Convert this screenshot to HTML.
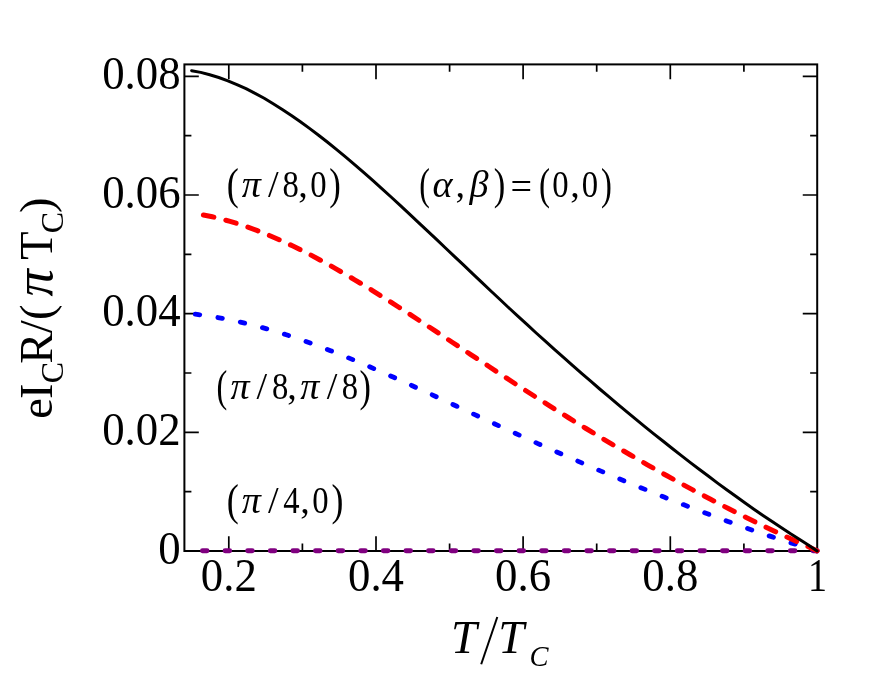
<!DOCTYPE html>
<html><head><meta charset="utf-8"><title>chart</title>
<style>html,body{margin:0;padding:0;background:#fff}svg{display:block;will-change:transform}</style></head>
<body>
<svg width="872" height="678" viewBox="0 0 872 678">
<rect x="0" y="0" width="872" height="678" fill="#fff"/>
<rect x="184.4" y="64.4" width="632.8" height="486.6" fill="none" stroke="#000" stroke-width="2"/>
<path d="M228.8,64.4v14.8M228.8,551.0v-14.8M302.4,64.4v7.4M302.4,551.0v-7.4M376.0,64.4v14.8M376.0,551.0v-14.8M449.6,64.4v7.4M449.6,551.0v-7.4M523.1,64.4v14.8M523.1,551.0v-14.8M596.7,64.4v7.4M596.7,551.0v-7.4M670.3,64.4v14.8M670.3,551.0v-14.8M743.9,64.4v7.4M743.9,551.0v-7.4M184.4,491.7h7.0M817.15,491.7h-7.0M184.4,432.3h14.4M817.15,432.3h-14.4M184.4,373.0h7.0M817.15,373.0h-7.0M184.4,313.6h14.4M817.15,313.6h-14.4M184.4,254.3h7.0M817.15,254.3h-7.0M184.4,195.0h14.4M817.15,195.0h-14.4M184.4,135.6h7.0M817.15,135.6h-7.0M184.4,76.3h14.4M817.15,76.3h-14.4" fill="none" stroke="#000" stroke-width="1.7"/>
<path d="M202.45,550.8H817.15" fill="none" stroke="#800080" stroke-width="4.9" stroke-linecap="round" stroke-dasharray="4.6 18.01"/>
<path d="M195.3,314.2L204.3,315.4L213.3,316.7L222.3,318.3L231.4,320.1L240.4,322.1L249.4,324.2L258.4,326.5L267.4,329.0L276.4,331.7L285.5,334.5L294.5,337.5L303.5,340.6L312.5,343.8L321.5,347.2L330.5,350.7L339.6,354.2L348.6,357.9L357.6,361.6L366.6,365.5L375.6,369.4L384.6,373.3L393.7,377.3L402.7,381.4L411.7,385.5L420.7,389.6L429.7,393.7L438.7,397.9L447.7,402.1L456.8,406.3L465.8,410.5L474.8,414.7L483.8,418.8L492.8,423.0L501.8,427.2L510.9,431.3L519.9,435.4L528.9,439.5L537.9,443.6L546.9,447.6L555.9,451.6L565.0,455.6L574.0,459.5L583.0,463.4L592.0,467.3L601.0,471.1L610.0,474.9L619.0,478.7L628.1,482.5L637.1,486.2L646.1,489.8L655.1,493.5L664.1,497.1L673.1,500.6L682.2,504.2L691.2,507.6L700.2,511.1L709.2,514.5L718.2,517.9L727.2,521.2L736.3,524.4L745.3,527.6L754.3,530.8L763.3,533.9L772.3,536.9L781.3,539.8L790.4,542.7L799.4,545.4L808.4,548.0L817.1,551.0" fill="none" stroke="#0000ff" stroke-width="4.8" stroke-linecap="round" stroke-dasharray="4.5 18.345"/>
<path d="M203.4,215.0L212.3,216.8L221.2,219.0L230.1,221.4L239.0,224.1L247.9,227.1L256.8,230.4L265.7,233.9L274.6,237.7L283.5,241.6L292.4,245.8L301.3,250.2L310.2,254.7L319.1,259.5L328.0,264.3L336.9,269.4L345.8,274.5L354.7,279.8L363.6,285.1L372.5,290.6L381.4,296.2L390.3,301.8L399.2,307.5L408.1,313.2L417.0,319.0L425.9,324.8L434.8,330.7L443.7,336.6L452.6,342.5L461.5,348.4L470.4,354.3L479.3,360.1L488.2,366.0L497.1,371.9L506.0,377.7L514.8,383.5L523.7,389.3L532.6,395.0L541.5,400.7L550.4,406.3L559.3,412.0L568.2,417.5L577.1,423.0L586.0,428.5L594.9,433.9L603.8,439.3L612.7,444.6L621.6,449.8L630.5,455.0L639.4,460.2L648.3,465.3L657.2,470.3L666.1,475.3L675.0,480.2L683.9,485.1L692.8,489.9L701.7,494.6L710.6,499.3L719.5,504.0L728.4,508.5L737.3,513.1L746.2,517.5L755.1,521.9L764.0,526.2L772.9,530.5L781.8,534.7L790.7,538.7L799.6,542.8L808.5,546.7L817.1,551.0" fill="none" stroke="#ff0000" stroke-width="5" stroke-linecap="round" stroke-dasharray="10.7 12.365"/>
<path d="M191.6,70.7L200.7,72.4L209.7,74.7L218.8,77.5L227.9,80.8L236.9,84.6L246.0,88.7L255.1,93.4L264.2,98.3L273.2,103.7L282.3,109.4L291.4,115.4L300.4,121.7L309.5,128.4L318.6,135.2L327.6,142.3L336.7,149.6L345.8,157.1L354.9,164.8L363.9,172.7L373.0,180.7L382.1,188.8L391.1,197.0L400.2,205.4L409.3,213.8L418.3,222.3L427.4,230.8L436.5,239.4L445.5,248.0L454.6,256.6L463.7,265.2L472.8,273.8L481.8,282.4L490.9,291.0L500.0,299.5L509.0,308.0L518.1,316.4L527.2,324.7L536.2,333.0L545.3,341.2L554.4,349.4L563.5,357.4L572.5,365.4L581.6,373.4L590.7,381.2L599.7,389.0L608.8,396.7L617.9,404.3L626.9,411.9L636.0,419.4L645.1,426.8L654.1,434.1L663.2,441.3L672.3,448.5L681.4,455.6L690.4,462.6L699.5,469.5L708.6,476.3L717.6,483.1L726.7,489.7L735.8,496.3L744.8,502.8L753.9,509.2L763.0,515.4L772.1,521.6L781.1,527.6L790.2,533.6L799.3,539.3L808.3,545.0L817.1,551.0" fill="none" stroke="#000" stroke-width="3" stroke-linecap="round" stroke-linejoin="round"/>
<g font-family="'Liberation Serif', serif" fill="#000">
<text transform="translate(180.6,563.6) scale(1,1.05)" font-size="44.8" text-anchor="end">0</text>
<text transform="translate(180.6,444.9) scale(1,1.05)" font-size="44.8" text-anchor="end">0.02</text>
<text transform="translate(180.6,326.2) scale(1,1.05)" font-size="44.8" text-anchor="end">0.04</text>
<text transform="translate(180.6,207.6) scale(1,1.05)" font-size="44.8" text-anchor="end">0.06</text>
<text transform="translate(180.6,88.9) scale(1,1.05)" font-size="44.8" text-anchor="end">0.08</text>
<text transform="translate(228.8,590.7) scale(1,1.05)" font-size="44.8" text-anchor="middle">0.2</text>
<text transform="translate(376.0,590.7) scale(1,1.05)" font-size="44.8" text-anchor="middle">0.4</text>
<text transform="translate(523.1,590.7) scale(1,1.05)" font-size="44.8" text-anchor="middle">0.6</text>
<text transform="translate(670.3,590.7) scale(1,1.05)" font-size="44.8" text-anchor="middle">0.8</text>
<text transform="translate(817.5,590.7) scale(0.85,1.05)" font-size="44.8" text-anchor="middle">1</text>
<text transform="translate(226.71,199.26) scale(0.9052471482889735,1.1083683360258487)" font-size="40.0">(</text>
<text x="241.79" y="197.20" font-size="38.2" font-style="italic">π</text>
<text x="268.00" y="197.20" font-size="38.2">/</text>
<text transform="translate(282.56,197.20) scale(0.875,1.0)" font-size="37.3">8</text>
<text x="298.35" y="197.20" font-size="38.2">,</text>
<text transform="translate(310.36,197.20) scale(0.875,1.0)" font-size="37.3">0</text>
<text transform="translate(329.18,199.26) scale(0.8663117870722401,1.1083683360258487)" font-size="40.0">)</text>
<text transform="translate(419.20,199.26) scale(0.7981749049429636,1.1083683360258487)" font-size="40.0">(</text>
<text x="432.46" y="197.20" font-size="38.2" font-style="italic">α</text>
<text x="455.55" y="197.20" font-size="38.2">,</text>
<text x="469.62" y="197.20" font-size="38.2" font-style="italic">β</text>
<text transform="translate(493.68,199.26) scale(0.8663117870722401,1.1083683360258487)" font-size="40.0">)</text>
<text x="510.50" y="199.30" font-size="38.2">=</text>
<text transform="translate(539.05,199.26) scale(0.8273764258555178,1.1083683360258487)" font-size="40.0">(</text>
<text transform="translate(552.16,197.20) scale(0.875,1.0)" font-size="37.3">0</text>
<text x="570.35" y="197.20" font-size="38.2">,</text>
<text transform="translate(581.76,197.20) scale(0.875,1.0)" font-size="37.3">0</text>
<text transform="translate(600.95,199.26) scale(0.8176425855513331,1.1083683360258487)" font-size="40.0">)</text>
<text transform="translate(216.48,401.36) scale(0.8079087452471484,1.1083683360258478)" font-size="40.0">(</text>
<text x="230.59" y="399.30" font-size="38.2" font-style="italic">π</text>
<text x="256.60" y="399.30" font-size="38.2">/</text>
<text transform="translate(271.96,399.30) scale(0.875,1.0)" font-size="37.3">8</text>
<text x="287.15" y="399.30" font-size="38.2">,</text>
<text x="300.19" y="399.30" font-size="38.2" font-style="italic">π</text>
<text x="326.80" y="399.30" font-size="38.2">/</text>
<text transform="translate(341.76,399.30) scale(0.875,1.0)" font-size="37.3">8</text>
<text transform="translate(359.60,401.36) scale(0.8565779467680609,1.1083683360258478)" font-size="40.0">)</text>
<text transform="translate(226.71,514.86) scale(0.9052471482889735,1.1083683360258478)" font-size="40.0">(</text>
<text x="241.79" y="512.80" font-size="38.2" font-style="italic">π</text>
<text x="268.00" y="512.80" font-size="38.2">/</text>
<text transform="translate(283.16,512.80) scale(0.875,1.0)" font-size="37.3">4</text>
<text x="300.25" y="512.80" font-size="38.2">,</text>
<text transform="translate(312.26,512.80) scale(0.875,1.0)" font-size="37.3">0</text>
<text transform="translate(331.55,514.86) scale(0.8955133079847942,1.1083683360258478)" font-size="40.0">)</text>
<text x="451.06" y="652.90" font-size="46.5" font-style="italic">T</text>
<text x="498.36" y="652.90" font-size="46.5" font-style="italic">T</text>
<text x="529.51" y="666.00" font-size="28.5" font-style="italic">C</text>
</g>
<path d="M481.2,664.3L497.3,617.0" stroke="#000" stroke-width="2" fill="none"/>
<g font-family="'Liberation Serif', serif" fill="#000" transform="translate(52.2,420) rotate(-90)">
<text x="1.18" y="0.00" font-size="46.5">e</text>
<text x="21.02" y="0.00" font-size="46.5">I</text>
<text x="36.89" y="11.00" font-size="32">C</text>
<text x="56.16" y="0.00" font-size="46.5">R</text>
<text x="86.70" y="0.00" font-size="46.5">/</text>
<text x="99.96" y="0.00" font-size="46.5">(</text>
<text x="123.51" y="0.00" font-size="54.5" font-style="italic">π</text>
<text x="160.16" y="0.00" font-size="46.5">T</text>
<text x="186.69" y="11.00" font-size="32">C</text>
<text x="207.10" y="0.00" font-size="46.5">)</text>
</g>
</svg>
</body></html>
